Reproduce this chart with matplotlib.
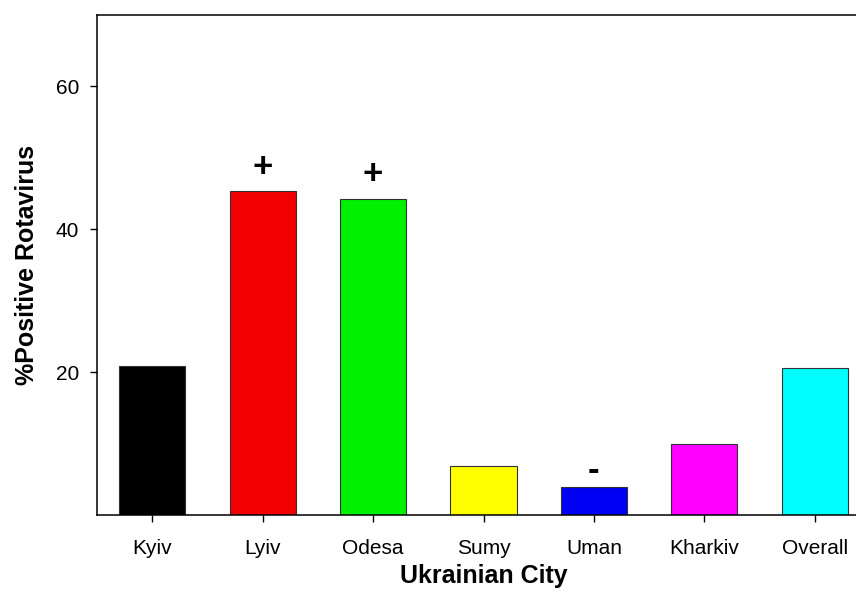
import matplotlib
matplotlib.use('Agg')
import matplotlib.pyplot as plt

plt.rcParams['font.family'] = ['Liberation Sans', 'DejaVu Sans']

cities = ['Kyiv', 'Lyiv', 'Odesa', 'Sumy', 'Uman', 'Kharkiv', 'Overall']
positive = [20.9, 45.3, 44.3, 6.9, 3.9, 9.9, 20.6]
colors = ['#000000', '#f20000', '#00f000', '#ffff00', '#0000f5', '#ff00ff', '#00ffff']
# significance marks above bars
marks = {'Lyiv': '+', 'Odesa': '+', 'Uman': '-'}

fig = plt.figure(figsize=(8.56, 5.94), dpi=100)
ax = fig.add_axes([97 / 856, 1 - 515 / 594, 773 / 856, 500 / 594])

x = range(len(cities))
ax.bar(x, positive, width=0.6, color=colors, edgecolor='#333333', linewidth=0.8)

for i, c in enumerate(cities):
    if c in marks:
        off = 17 if marks[c] == '+' else 12
        ax.annotate(marks[c], (i, positive[i]), xytext=(0, off), textcoords='offset points',
                    ha='center', va='center', fontsize=25, fontweight='bold')

ax.set_xlim(-0.5, len(cities) - 0.5)
ax.set_ylim(0, 70)
ax.set_yticks([20, 40, 60])
ax.set_xticks(list(x))
ax.set_xticklabels(cities)
ax.tick_params(direction='out', length=5, width=1, labelsize=15, pad=8)
ax.tick_params(axis='x', pad=12)
for s in ax.spines.values():
    s.set_linewidth(1.1)

ax.set_xlabel('Ukrainian City', fontsize=18, fontweight='bold', labelpad=4.5)
ax.set_ylabel('%Positive Rotavirus', fontsize=18, fontweight='bold', labelpad=12)

fig.savefig('out.png', dpi=100)
